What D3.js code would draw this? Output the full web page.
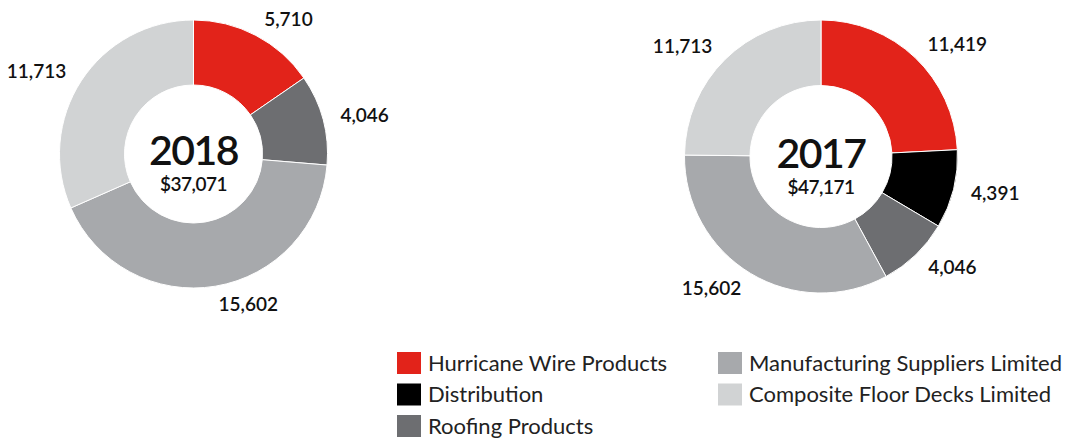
<!DOCTYPE html>
<html>
<head>
<meta charset="utf-8">
<script src="https://cdn.jsdelivr.net/npm/d3@7"></script>
<style>
  body { margin: 0; background: #fff; }
  svg text { font-family: Lato, "Open Sans", sans-serif; fill: #111; }
</style>
</head>
<body>
<svg id="chart" width="1074" height="442"></svg>
<script>
// segments, in clockwise order from 12 o'clock
var segments = ["Hurricane Wire Products", "Distribution", "Roofing Products",
                "Manufacturing Suppliers Limited", "Composite Floor Decks Limited"];
var colors = ["#e2231a", "#000000", "#6d6e71", "#a7a9ac", "#d1d3d4"];

var years = ["2018", "2017"];
var values2018 = [5710, 0, 4046, 15602, 11713];
var values2017 = [11419, 4391, 4046, 15602, 11713];

var svg = d3.select("#chart");
var fmt = d3.format(",");
var fmtTot = d3.format("$,");

var color = d3.scaleOrdinal().domain(segments).range(colors);

var pie = d3.pie().sort(null).value(function(d){ return d.value; });

var drawDonut = function(year, vals, cx, cy, rOut, rIn){
    var data = segments.map(function(s, i){ return {name: s, value: vals[i]}; })
        .filter(function(d){ return d.value > 0; });
    var total = d3.sum(data, function(d){ return d.value; });

    var g = svg.append("g").attr("transform", "translate(" + cx + "," + cy + ")");
    var arc = d3.arc().innerRadius(rIn).outerRadius(rOut);
    var lab = d3.arc().innerRadius(rOut + 18).outerRadius(rOut + 18);

    var arcs = pie(data);
    g.selectAll("path").data(arcs).enter()
        .append("path")
        .attr("d", arc)
        .attr("fill", function(d){ return color(d.data.name); })
        .attr("stroke", "#fff")
        .attr("stroke-width", 1);

    g.selectAll("text.val").data(arcs).enter()
        .append("text")
        .attr("class", "val")
        .attr("x", function(d){ return lab.centroid(d)[0]; })
        .attr("y", function(d){ return lab.centroid(d)[1]; })
        .attr("dy", "0.35em")
        .attr("text-anchor", function(d){ return lab.centroid(d)[0] >= 0 ? "start" : "end"; })
        .style("font-size", "19px")
        .style("font-weight", 600)
        .text(function(d){ return fmt(d.data.value); });

    g.append("text")
        .attr("y", 11)
        .attr("text-anchor", "middle")
        .style("font-size", "41px")
        .style("font-weight", 600)
        .style("letter-spacing", "-1.5px")
        .text(year);
    g.append("text")
        .attr("y", 37)
        .attr("text-anchor", "middle")
        .style("font-size", "19px")
        .style("font-weight", 600)
        .style("letter-spacing", "-0.5px")
        .text(fmtTot(total));
};

drawDonut(years[0], values2018, 193.5, 154, 134, 69);
drawDonut(years[1], values2017, 821, 156.5, 136.5, 71);

// legend
var legend = svg.append("g");
var items = legend.selectAll("g").data(segments).enter()
    .append("g")
    .attr("transform", function(d, i){
        var col = i < 3 ? 0 : 1;
        var row = i < 3 ? i : i - 3;
        return "translate(" + (397 + col * 321) + "," + (352 + row * 31.5) + ")";
    });
items.append("rect")
    .attr("width", 24).attr("height", 22)
    .attr("fill", function(d){ return color(d); });
items.append("text")
    .attr("x", 31).attr("y", 11).attr("dy", "0.36em")
    .style("font-size", "22px")
    .style("fill", "#222")
    .text(function(d){ return d; });
</script>
</body>
</html>
